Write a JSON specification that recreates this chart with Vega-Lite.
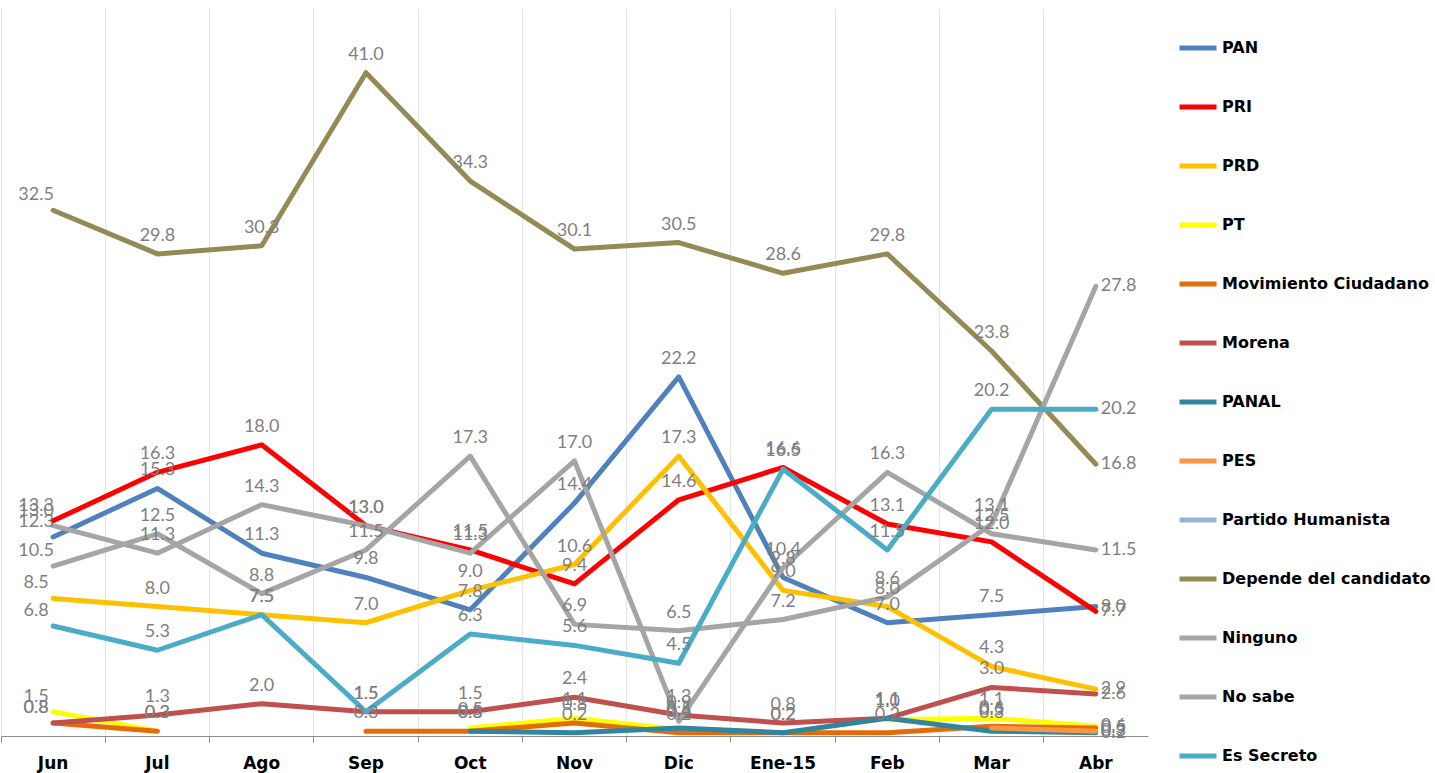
{
  "$schema": "https://vega.github.io/schema/vega-lite/v6.json",
  "width": 1147,
  "height": 728,
  "autosize": "none",
  "padding": {"left": 1, "top": 8, "right": 287, "bottom": 37},
  "background": "white",
  "config": {"view": {"stroke": null}},
  "data": {"values": [
    {"mes":"Jun","serie":"PAN","valor":12.3},{"mes":"Jul","serie":"PAN","valor":15.3},{"mes":"Ago","serie":"PAN","valor":11.3},{"mes":"Sep","serie":"PAN","valor":9.8},{"mes":"Oct","serie":"PAN","valor":7.8},{"mes":"Nov","serie":"PAN","valor":14.4},{"mes":"Dic","serie":"PAN","valor":22.2},{"mes":"Ene-15","serie":"PAN","valor":9.8},{"mes":"Feb","serie":"PAN","valor":7.0},{"mes":"Mar","serie":"PAN","valor":7.5},{"mes":"Abr","serie":"PAN","valor":8.0},
    {"mes":"Jun","serie":"PRI","valor":13.3},{"mes":"Jul","serie":"PRI","valor":16.3},{"mes":"Ago","serie":"PRI","valor":18.0},{"mes":"Sep","serie":"PRI","valor":13.0},{"mes":"Oct","serie":"PRI","valor":11.5},{"mes":"Nov","serie":"PRI","valor":9.4},{"mes":"Dic","serie":"PRI","valor":14.6},{"mes":"Ene-15","serie":"PRI","valor":16.6},{"mes":"Feb","serie":"PRI","valor":13.1},{"mes":"Mar","serie":"PRI","valor":12.0},{"mes":"Abr","serie":"PRI","valor":7.7},
    {"mes":"Jun","serie":"PRD","valor":8.5},{"mes":"Jul","serie":"PRD","valor":8.0},{"mes":"Ago","serie":"PRD","valor":7.5},{"mes":"Sep","serie":"PRD","valor":7.0},{"mes":"Oct","serie":"PRD","valor":9.0},{"mes":"Nov","serie":"PRD","valor":10.6},{"mes":"Dic","serie":"PRD","valor":17.3},{"mes":"Ene-15","serie":"PRD","valor":9.0},{"mes":"Feb","serie":"PRD","valor":8.0},{"mes":"Mar","serie":"PRD","valor":4.3},{"mes":"Abr","serie":"PRD","valor":2.9},
    {"mes":"Jun","serie":"PT","valor":1.5},{"mes":"Jul","serie":"PT","valor":0.3},{"mes":"Ago","serie":"PT","valor":null},{"mes":"Sep","serie":"PT","valor":null},{"mes":"Oct","serie":"PT","valor":0.5},{"mes":"Nov","serie":"PT","valor":1.1},{"mes":"Dic","serie":"PT","valor":0.4},{"mes":"Ene-15","serie":"PT","valor":null},{"mes":"Feb","serie":"PT","valor":1.0},{"mes":"Mar","serie":"PT","valor":1.1},{"mes":"Abr","serie":"PT","valor":0.6},
    {"mes":"Jun","serie":"Movimiento Ciudadano","valor":0.8},{"mes":"Jul","serie":"Movimiento Ciudadano","valor":0.3},{"mes":"Ago","serie":"Movimiento Ciudadano","valor":null},{"mes":"Sep","serie":"Movimiento Ciudadano","valor":0.3},{"mes":"Oct","serie":"Movimiento Ciudadano","valor":0.3},{"mes":"Nov","serie":"Movimiento Ciudadano","valor":0.8},{"mes":"Dic","serie":"Movimiento Ciudadano","valor":0.2},{"mes":"Ene-15","serie":"Movimiento Ciudadano","valor":0.2},{"mes":"Feb","serie":"Movimiento Ciudadano","valor":0.2},{"mes":"Mar","serie":"Movimiento Ciudadano","valor":0.6},{"mes":"Abr","serie":"Movimiento Ciudadano","valor":0.5},
    {"mes":"Jun","serie":"Morena","valor":0.8},{"mes":"Jul","serie":"Morena","valor":1.3},{"mes":"Ago","serie":"Morena","valor":2.0},{"mes":"Sep","serie":"Morena","valor":1.5},{"mes":"Oct","serie":"Morena","valor":1.5},{"mes":"Nov","serie":"Morena","valor":2.4},{"mes":"Dic","serie":"Morena","valor":1.3},{"mes":"Ene-15","serie":"Morena","valor":0.8},{"mes":"Feb","serie":"Morena","valor":1.1},{"mes":"Mar","serie":"Morena","valor":3.0},{"mes":"Abr","serie":"Morena","valor":2.6},
    {"mes":"Oct","serie":"PANAL","valor":0.3},{"mes":"Nov","serie":"PANAL","valor":0.2},{"mes":"Dic","serie":"PANAL","valor":0.5},{"mes":"Ene-15","serie":"PANAL","valor":0.2},{"mes":"Feb","serie":"PANAL","valor":1.1},{"mes":"Mar","serie":"PANAL","valor":0.3},{"mes":"Abr","serie":"PANAL","valor":0.2},
    {"mes":"Mar","serie":"PES","valor":0.5},{"mes":"Abr","serie":"PES","valor":0.3},
    {"mes":"Jun","serie":"Depende del candidato","valor":32.5},{"mes":"Jul","serie":"Depende del candidato","valor":29.8},{"mes":"Ago","serie":"Depende del candidato","valor":30.3},{"mes":"Sep","serie":"Depende del candidato","valor":41.0},{"mes":"Oct","serie":"Depende del candidato","valor":34.3},{"mes":"Nov","serie":"Depende del candidato","valor":30.1},{"mes":"Dic","serie":"Depende del candidato","valor":30.5},{"mes":"Ene-15","serie":"Depende del candidato","valor":28.6},{"mes":"Feb","serie":"Depende del candidato","valor":29.8},{"mes":"Mar","serie":"Depende del candidato","valor":23.8},{"mes":"Abr","serie":"Depende del candidato","valor":16.8},
    {"mes":"Jun","serie":"Ninguno","valor":13.0},{"mes":"Jul","serie":"Ninguno","valor":11.3},{"mes":"Ago","serie":"Ninguno","valor":14.3},{"mes":"Sep","serie":"Ninguno","valor":13.0},{"mes":"Oct","serie":"Ninguno","valor":11.3},{"mes":"Nov","serie":"Ninguno","valor":17.0},{"mes":"Dic","serie":"Ninguno","valor":0.9},{"mes":"Ene-15","serie":"Ninguno","valor":10.4},{"mes":"Feb","serie":"Ninguno","valor":16.3},{"mes":"Mar","serie":"Ninguno","valor":12.5},{"mes":"Abr","serie":"Ninguno","valor":11.5},
    {"mes":"Jun","serie":"No sabe","valor":10.5},{"mes":"Jul","serie":"No sabe","valor":12.5},{"mes":"Ago","serie":"No sabe","valor":8.8},{"mes":"Sep","serie":"No sabe","valor":11.5},{"mes":"Oct","serie":"No sabe","valor":17.3},{"mes":"Nov","serie":"No sabe","valor":6.9},{"mes":"Dic","serie":"No sabe","valor":6.5},{"mes":"Ene-15","serie":"No sabe","valor":7.2},{"mes":"Feb","serie":"No sabe","valor":8.6},{"mes":"Mar","serie":"No sabe","valor":13.1},{"mes":"Abr","serie":"No sabe","valor":27.8},
    {"mes":"Jun","serie":"Es Secreto","valor":6.8},{"mes":"Jul","serie":"Es Secreto","valor":5.3},{"mes":"Ago","serie":"Es Secreto","valor":7.5},{"mes":"Sep","serie":"Es Secreto","valor":1.5},{"mes":"Oct","serie":"Es Secreto","valor":6.3},{"mes":"Nov","serie":"Es Secreto","valor":5.6},{"mes":"Dic","serie":"Es Secreto","valor":4.5},{"mes":"Ene-15","serie":"Es Secreto","valor":16.5},{"mes":"Feb","serie":"Es Secreto","valor":11.5},{"mes":"Mar","serie":"Es Secreto","valor":20.2},{"mes":"Abr","serie":"Es Secreto","valor":20.2}
  ]},
  "layer": [
    {
      "mark": {"type": "line", "strokeCap": "round", "strokeJoin": "round"},
      "encoding": {
        "x": {"field": "mes", "type": "ordinal", "sort": ["Jun","Jul","Ago","Sep","Oct","Nov","Dic","Ene-15","Feb","Mar","Abr"], "bandPosition": 0.5,
              "scale": {"type": "band", "paddingInner": 0, "paddingOuter": 0},
              "axis": {"bandPosition": 0, "labels": false, "grid": true, "gridColor": "#E4E4E4", "ticks": true, "tickColor": "#8C8C8C", "tickSize": 6, "domainColor": "#8C8C8C", "title": null}},
        "y": {"field": "valor", "type": "quantitative", "scale": {"domain": [0, 45], "nice": false},
              "axis": {"labels": false, "ticks": false, "grid": false, "domain": true, "domainColor": "#8C8C8C", "title": null}},
        "color": {"field": "serie", "type": "nominal",
                  "scale": {"domain": ["PAN","PRI","PRD","PT","Movimiento Ciudadano","Morena","PANAL","PES","Partido Humanista","Depende del candidato","Ninguno","No sabe","Es Secreto"],
                            "range": ["#4F81BD","#FF0000","#FFC000","#FFFF00","#E36C09","#C0504D","#31859C","#F79646","#95B3D7","#948A54","#A5A5A5","#A5A5A5","#4BACC6"]},
                  "legend": {"orient": "none", "legendX": 1176, "legendY": 19, "title": null, "symbolType": "stroke", "symbolSize": 1369, "symbolStrokeWidth": 4.5,
                             "labelFont": "DejaVu Sans", "labelFontWeight": "bold", "labelFontSize": 16, "labelColor": "black", "rowPadding": 28, "labelOffset": 3, "padding": 0, "symbolOffset": 0, "labelLimit": 300}},
        "strokeWidth": {"field": "serie", "type": "nominal",
                  "scale": {"domain": ["PAN","PRI","PRD","PT","Movimiento Ciudadano","Morena","PANAL","PES","Partido Humanista","Depende del candidato","Ninguno","No sabe","Es Secreto"],
                            "range": [5, 5, 5, 5, 5, 4.5, 4.5, 3, 3, 4.5, 5, 3, 3]},
                  "legend": null}
      }
    },
    {
      "transform": [{"filter": "datum.valor != null && datum.mes != 'Jun' && datum.mes != 'Abr'"}],
      "mark": {"type": "text", "dy": -18, "font": "Lato", "fontSize": 18, "color": "#7F7F7F", "baseline": "middle"},
      "encoding": {
        "x": {"field": "mes", "type": "ordinal", "sort": ["Jun","Jul","Ago","Sep","Oct","Nov","Dic","Ene-15","Feb","Mar","Abr"], "bandPosition": 0.5,
              "axis": {"labels": true, "labelAngle": 0, "ticks": false, "grid": false, "domain": false, "orient": "bottom", "labelFont": "DejaVu Sans", "labelFontWeight": "bold", "labelFontSize": 17, "labelColor": "black", "labelPadding": 27, "labelBaseline": "middle", "title": null}},
        "y": {"field": "valor", "type": "quantitative", "axis": null},
        "text": {"field": "valor", "type": "quantitative", "format": ".1f"}
      }
    },
    {
      "transform": [{"filter": "datum.valor != null && datum.mes == 'Jun'"}],
      "mark": {"type": "text", "dx": -17, "dy": -15, "font": "Lato", "fontSize": 18, "color": "#7F7F7F", "baseline": "middle"},
      "encoding": {
        "x": {"field": "mes", "type": "ordinal", "sort": ["Jun","Jul","Ago","Sep","Oct","Nov","Dic","Ene-15","Feb","Mar","Abr"], "bandPosition": 0.5, "axis": null},
        "y": {"field": "valor", "type": "quantitative", "axis": null},
        "text": {"field": "valor", "type": "quantitative", "format": ".1f"}
      }
    },
    {
      "transform": [{"filter": "datum.valor != null && datum.mes == 'Abr'"}],
      "mark": {"type": "text", "dx": 5, "dy": 0, "align": "left", "font": "Lato", "fontSize": 18, "color": "#7F7F7F", "baseline": "middle"},
      "encoding": {
        "x": {"field": "mes", "type": "ordinal", "sort": ["Jun","Jul","Ago","Sep","Oct","Nov","Dic","Ene-15","Feb","Mar","Abr"], "bandPosition": 0.5, "axis": null},
        "y": {"field": "valor", "type": "quantitative", "axis": null},
        "text": {"field": "valor", "type": "quantitative", "format": ".1f"}
      }
    }
  ],
  "resolve": {"axis": {"x": "independent"}}
}
